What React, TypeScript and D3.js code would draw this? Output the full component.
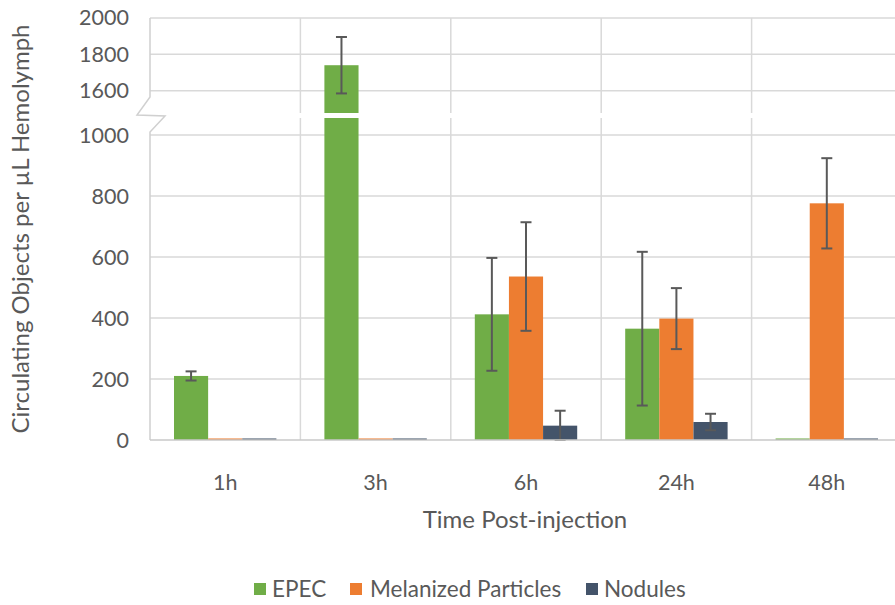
import React from "react";
import * as d3 from "d3";

// time points and series
const categories = ["1h", "3h", "6h", "24h", "48h"];
const seriesNames = ["EPEC", "Melanized Particles", "Nodules"];
const epec = [210, 1740, 412, 365, 5];
const epecErr = [15, 155, 185, 252, 0];
const melanized = [5, 5, 536, 398, 776];
const melanizedErr = [0, 0, 178, 100, 148];
const nodules = [5, 5, 47, 59, 5];
const nodulesErr = [0, 0, 49, 27, 0];
const lowerTicks = [0, 200, 400, 600, 800, 1000];
const upperTicks = [1600, 1800, 2000];

const colors = ["#70ad47", "#ed7d31", "#44546a"];
const values = [epec, melanized, nodules];
const errors = [epecErr, melanizedErr, nodulesErr];

const W = 895;
const H = 605;
const left = 150;
const right = 902;
const font = "Lato, 'Open Sans', sans-serif";
const textColor = "#595959";
const gridColor = "#d9d9d9";

export default function App() {
  // two stacked panels for the broken axis
  const yLow = d3.scaleLinear().domain([0, 1000]).range([440, 135]);
  const yUp = d3.scaleLinear().domain([1600, 2000]).range([90.7, 17.9]);
  const lowTop = 118;
  const upBottom = 113;

  const x0 = d3.scaleBand().domain(categories).range([left, right]);
  const x1 = d3
    .scaleBand()
    .domain(seriesNames)
    .range([24, x0.bandwidth() - 24]);

  const bars: any[] = [];
  categories.forEach((c, i) => {
    seriesNames.forEach((s, j) => {
      const v = values[j][i];
      const e = errors[j][i];
      const bx = (x0(c) as number) + (x1(s) as number);
      const bw = x1.bandwidth();
      const cx = bx + bw / 2;
      // lower panel
      bars.push(
        <rect key={`l${i}${j}`} x={bx} y={yLow(Math.min(v, 1060))} width={bw}
          height={yLow(0) - yLow(Math.min(v, 1060))} fill={colors[j]}
          clipPath="url(#clipLow)" />
      );
      if (v > 1000) {
        bars.push(
          <rect key={`u${i}${j}`} x={bx} y={yUp(v)} width={bw}
            height={upBottom - yUp(v)} fill={colors[j]} clipPath="url(#clipUp)" />
        );
      }
      if (e > 0) {
        const sc = v > 1000 ? yUp : yLow;
        const y1 = sc(v + e);
        const y2 = sc(Math.max(0, v - e));
        bars.push(
          <g key={`e${i}${j}`} stroke="#595959" strokeWidth={2}>
            <line x1={cx} x2={cx} y1={y1} y2={y2} />
            <line x1={cx - 5.5} x2={cx + 5.5} y1={y1} y2={y1} />
            <line x1={cx - 5.5} x2={cx + 5.5} y1={y2} y2={y2} />
          </g>
        );
      }
    });
  });

  const vLines = categories.map((c) => x0(c) as number).slice(1).concat([right]);

  return (
    <svg width={W} height={H} style={{ position: "absolute", left: 0, top: 0 }}>
      <defs>
        <clipPath id="clipLow">
          <rect x={left} y={lowTop} width={right - left} height={440 - lowTop} />
        </clipPath>
        <clipPath id="clipUp">
          <rect x={left} y={0} width={right - left} height={upBottom} />
        </clipPath>
      </defs>
      <rect width={W} height={H} fill="#fff" />

      {/* grid */}
      <g stroke={gridColor} strokeWidth={1.5}>
        {lowerTicks.slice(1).map((t) => (
          <line key={`gl${t}`} x1={left} x2={right} y1={yLow(t)} y2={yLow(t)} />
        ))}
        {upperTicks.map((t) => (
          <line key={`gu${t}`} x1={left} x2={right} y1={yUp(t)} y2={yUp(t)} />
        ))}
        {vLines.map((vx, i) => (
          <g key={`v${i}`}>
            <line x1={vx} x2={vx} y1={yUp(2000)} y2={upBottom} />
            <line x1={vx} x2={vx} y1={lowTop} y2={440} />
          </g>
        ))}
      </g>

      {bars}

      {/* axis with break mark */}
      <path
        d={`M${left},${yUp(2000)} L${left},97 L137,115 L165,116 L${left},132 L${left},440`}
        fill="none" stroke="#d0d0d0" strokeWidth={1.5} />
      <line x1={left} x2={right} y1={440} y2={440} stroke="#c8c8c8" strokeWidth={1.5} />

      {/* tick labels */}
      <g fontFamily={font} fontSize={21.5} fill={textColor} textAnchor="end">
        {lowerTicks.map((t) => (
          <text key={`tl${t}`} x={129} y={yLow(t)} dy="0.35em">{t}</text>
        ))}
        {upperTicks.map((t) => (
          <text key={`tu${t}`} x={129} y={yUp(t)} dy="0.35em">{t}</text>
        ))}
      </g>
      <g fontFamily={font} fontSize={21.5} fill={textColor} textAnchor="middle">
        {categories.map((c) => (
          <text key={c} x={(x0(c) as number) + x0.bandwidth() / 2} y={482} dy="0.35em">{c}</text>
        ))}
      </g>

      <text x={525} y={520} dy="0.35em" textAnchor="middle" fontFamily={font}
        fontSize={24} fill={textColor}>Time Post-injection</text>
      <text transform="translate(21,229) rotate(-90)" dy="0.35em" textAnchor="middle"
        fontFamily={font} fontSize={24} fill={textColor}>
        Circulating Objects per µL Hemolymph
      </text>

      {/* legend */}
      <g fontFamily={font} fontSize={22.5} fill={textColor}>
        {[
          { x: 254, tx: 272 },
          { x: 350, tx: 370 },
          { x: 586, tx: 604 },
        ].map((p, i) => (
          <g key={seriesNames[i]}>
            <rect x={p.x} y={583} width={12} height={12} fill={colors[i]} />
            <text x={p.tx} y={589} dy="0.35em">{seriesNames[i]}</text>
          </g>
        ))}
      </g>
    </svg>
  );
}
